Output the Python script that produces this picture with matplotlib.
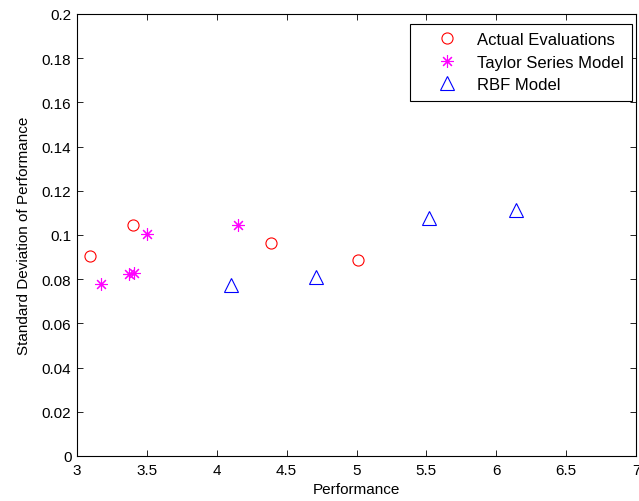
import numpy as np
import matplotlib.pyplot as plt

plt.rcParams['font.family'] = ['Liberation Sans', 'DejaVu Sans']
plt.rcParams['font.size'] = 11

# Actual evaluations
actual_x = [3.09, 3.40, 4.39, 5.01]
actual_y = [0.0905, 0.1045, 0.0965, 0.0888]

# Taylor series model
taylor_x = [3.17, 3.37, 3.41, 3.50, 4.15]
taylor_y = [0.078, 0.0825, 0.0830, 0.1005, 0.1045]

# RBF model
rbf_x = [4.10, 4.71, 5.52, 6.14]
rbf_y = [0.0775, 0.0808, 0.1075, 0.1115]

fig = plt.figure(figsize=(6.39, 5.02), dpi=100)
ax = fig.add_axes([77/639, 45/502, 559/639, 442/502])

ax.plot(actual_x, actual_y, 'o', mfc='none', mec='#ff0000', ms=8, mew=0.8,
        label='Actual Evaluations')
ax.plot(taylor_x, taylor_y, ls='none', marker=(8, 2, 0), color='#ff00ff',
        ms=9, mew=0.8, label='Taylor Series Model')
ax.plot(rbf_x, rbf_y, '^', mfc='none', mec='#0000ff', ms=10, mew=0.8,
        label='RBF Model')

ax.set_xlim(3, 7)
ax.set_ylim(0, 0.2)
ax.set_xticks(np.arange(3, 7.01, 0.5))
ax.set_xticklabels(['3', '3.5', '4', '4.5', '5', '5.5', '6', '6.5', '7'])
ax.set_yticks(np.arange(0, 0.201, 0.02))
ax.set_yticklabels(['0', '0.02', '0.04', '0.06', '0.08', '0.1', '0.12',
                    '0.14', '0.16', '0.18', '0.2'])
ax.tick_params(direction='in', length=4, width=0.6, top=True, right=True)
ax.tick_params(axis='x', pad=5)
ax.tick_params(axis='y', pad=4)
for s in ax.spines.values():
    s.set_linewidth(0.8)
ax.set_xlabel('Performance', labelpad=4)
ax.set_ylabel('Standard Deviation of Performance', labelpad=8)

leg = ax.legend(loc='upper right', bbox_to_anchor=(0.9928, 0.9774),
                fancybox=False, edgecolor='black', framealpha=1,
                borderaxespad=0, fontsize=12, handlelength=3.4,
                handletextpad=0.12, borderpad=0.5, labelspacing=0.45)
leg.get_frame().set_linewidth(0.8)

fig.savefig('out.png', dpi=100)
